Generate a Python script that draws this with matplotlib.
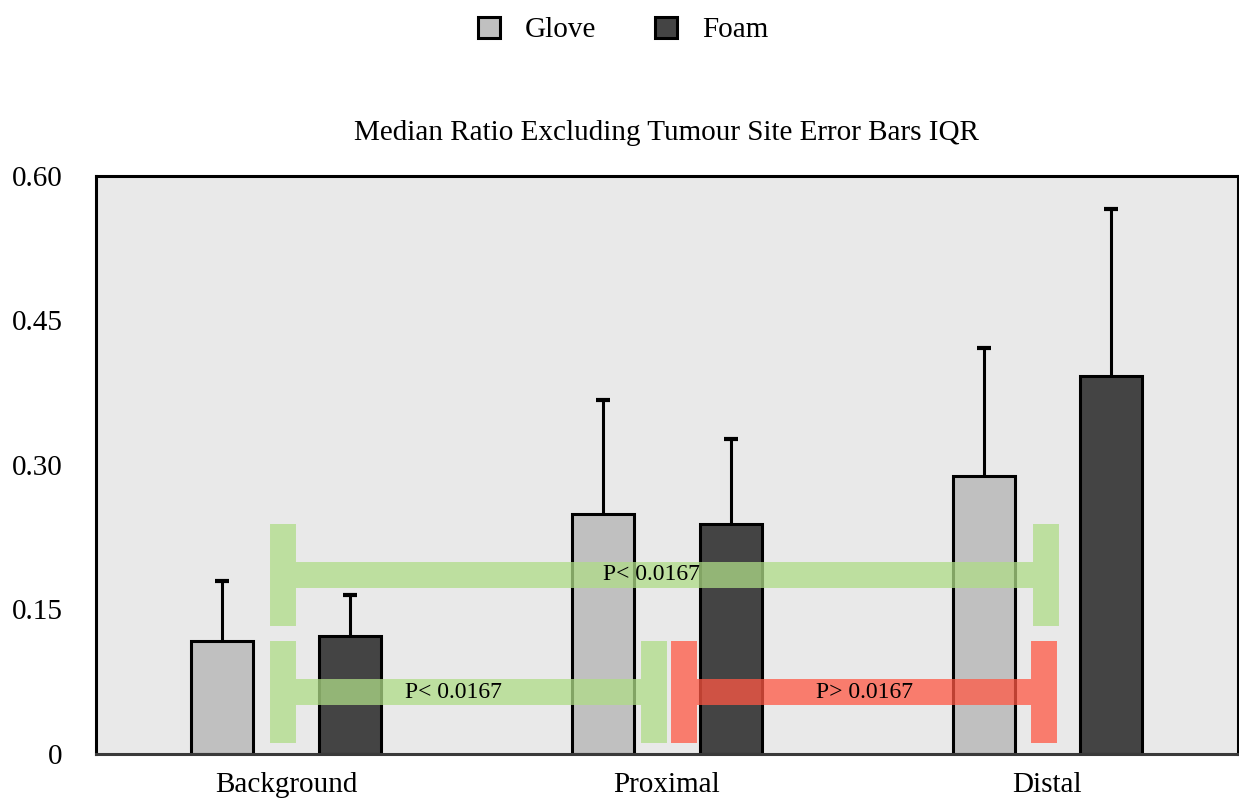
import numpy as np
import matplotlib.pyplot as plt
from matplotlib.patches import Patch, PathPatch
from matplotlib.path import Path

plt.rcParams['font.family'] = ['Liberation Serif', 'DejaVu Serif']

# median ratio per site, upper IQR bound for the error bar
sites = ['Background', 'Proximal', 'Distal']
glove_median = [0.117, 0.249, 0.289]
glove_q3 = [0.180, 0.367, 0.421]
foam_median = [0.122, 0.239, 0.392]
foam_q3 = [0.165, 0.327, 0.566]

# significance brackets: start, end, height, label, label x
brk_start = [-0.01, -0.01, 1.045]
brk_end = [1.995, 0.965, 1.99]
brk_y = [0.186, 0.064, 0.064]
brk_text = ['P< 0.0167', 'P< 0.0167', 'P> 0.0167']
brk_text_x = [0.96, 0.44, 1.52]
brk_color = ['#afdc87', '#afdc87', '#ff5844']

yticks = [0, 0.15, 0.30, 0.45, 0.60]
ytick_labels = ['0', '0.15', '0.30', '0.45', '0.60']

glove_col = '#c0c0c0'
foam_col = '#444444'

fig = plt.figure(figsize=(12.39, 8.09), dpi=100)
ax = fig.add_axes([0.0775, 0.068, 0.9215, 0.7145])
ax.set_facecolor('#e9e9e9')

x = np.arange(len(sites))
w = 0.163
off = 0.168

ax.bar(x - off, glove_median, w, color=glove_col, edgecolor='black', linewidth=2.2, zorder=2)
ax.bar(x + off, foam_median, w, color=foam_col, edgecolor='black', linewidth=2.2, zorder=2)

# upper-only error bars, hide the cap sitting on the bar top
for xs, med, q3 in [(x - off, glove_median, glove_q3), (x + off, foam_median, foam_q3)]:
    err = np.array(q3) - np.array(med)
    _, caps, _ = ax.errorbar(xs, med, yerr=[np.zeros(len(med)), err], fmt='none',
                             ecolor='black', elinewidth=2.2, capsize=5, capthick=3, zorder=1)
    for cl in caps:
        if np.allclose(cl.get_ydata(), med):
            cl.set_visible(False)

# each bracket is a single path so the overlapping strokes don't darken
cap_h = 0.053
for x1, x2, y, txt, tx, c in zip(brk_start, brk_end, brk_y, brk_text, brk_text_x, brk_color):
    verts = [(x1, y - cap_h), (x1, y + cap_h),
             (x2, y - cap_h), (x2, y + cap_h),
             (x1, y), (x2, y)]
    codes = [Path.MOVETO, Path.LINETO] * 3
    pp = PathPatch(Path(verts, codes), fill=False, edgecolor=c, linewidth=18.7,
                   capstyle='butt', joinstyle='miter', alpha=0.75, zorder=3)
    ax.add_patch(pp)
    ax.text(tx, y, txt, ha='center', va='center', fontsize=17, zorder=4)

ax.set_xlim(-0.5, 2.5)
ax.set_ylim(0, 0.6)
ax.set_xticks(x)
ax.set_xticklabels(sites, fontsize=21)
ax.set_yticks(yticks)
ax.set_yticklabels(ytick_labels, fontsize=21)
ax.tick_params(axis='both', length=0)
ax.tick_params(axis='y', pad=24)
ax.tick_params(axis='x', pad=13)

for s in ['left', 'top', 'right']:
    ax.spines[s].set_linewidth(2.2)
    ax.spines[s].set_color('black')
ax.spines['bottom'].set_linewidth(2.2)
ax.spines['bottom'].set_color('#3a3a3a')

ax.set_title('Median Ratio Excluding Tumour Site Error Bars IQR', fontsize=21, pad=26)

handles = [Patch(facecolor=glove_col, edgecolor='black', linewidth=2.2, label='Glove'),
           Patch(facecolor=foam_col, edgecolor='black', linewidth=2.2, label='Foam')]
fig.legend(handles=handles, loc='upper center', bbox_to_anchor=(0.503, 1.012), ncol=2,
           frameon=False, fontsize=21, handlelength=0.76, handleheight=0.76,
           handletextpad=0.86, columnspacing=2.0)

fig.savefig('out.png', dpi=100)
